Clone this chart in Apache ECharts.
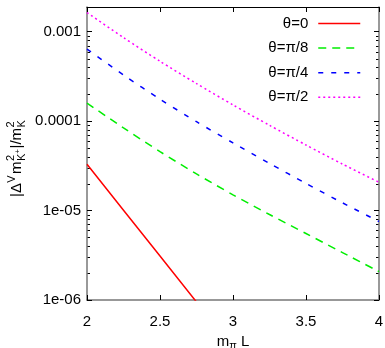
<!DOCTYPE html>
<html>
<head>
<meta charset="utf-8">
<script src="https://cdn.jsdelivr.net/npm/echarts@6/dist/echarts.min.js"></script>
<style>
  html, body { margin: 0; padding: 0; background: #fff; }
  #chart { width: 385px; height: 348px; }
</style>
</head>
<body>
<div id="chart"></div>
<script>
const mL = [2, 2.25, 2.5, 2.75, 3, 3.25, 3.5, 3.75, 4];
// |Delta^V m^2_K+| / m^2_K for each theta
const theta0 = [3.30e-5, 1.01e-5, 3.11e-6, 9.5e-7];
const thetaPi8 = [1.59e-4, 8.40e-5, 4.56e-5, 2.57e-5, 1.50e-5, 9.03e-6, 5.54e-6, 3.39e-6, 2.08e-6];
const thetaPi4 = [6.40e-4, 3.28e-4, 1.76e-4, 9.86e-5, 5.71e-5, 3.37e-5, 2.01e-5, 1.22e-5, 7.55e-6];
const thetaPi2 = [1.64e-3, 8.59e-4, 4.67e-4, 2.63e-4, 1.52e-4, 8.98e-5, 5.41e-5, 3.31e-5, 2.07e-5];

const seriesNames = ['θ=0', 'θ=π/8', 'θ=π/4', 'θ=π/2'];
const xTickLabels = ['2', '2.5', '3', '3.5', '4'];
const yTickLabels = ['1e-06', '1e-05', '0.0001', '0.001'];

const FONT = 'Liberation Sans';
const X_MIN = 2, X_MAX = 4, Y_MIN = 1e-6, Y_MAX = 0.00189;

const chart = echarts.init(document.getElementById('chart'));

function pairs(ys) {
  return ys.map((y, i) => [mL[i], y]);
}

function yLabel(v) {
  const l = Math.log10(v);
  const e = Math.round(l);
  if (Math.abs(l - e) > 1e-6) return '';
  return yTickLabels[e + 6] || '';
}

function xLabel(v) {
  const i = Math.round((v - X_MIN) / 0.5);
  return xTickLabels[i] || '';
}

const lineSeries = [
  { data: theta0, color: '#ff0000', type: 'solid', smooth: false },
  { data: thetaPi8, color: '#00ee00', type: [8, 6], smooth: 0.25 },
  { data: thetaPi4, color: '#0000ff', type: [5, 8], smooth: 0.25 },
  { data: thetaPi2, color: '#ff00ff', type: [2, 3], smooth: 0.25 },
].map((s, i) => ({
  name: seriesNames[i],
  type: 'line',
  data: pairs(s.data),
  smooth: s.smooth,
  symbol: 'none',
  clip: true,
  color: s.color,
  lineStyle: { color: s.color, width: 1.5, type: s.type },
}));

const grayLine = { show: true, onZero: false, lineStyle: { color: '#777', width: 1.5 } };
const blackLine = { show: true, onZero: false, lineStyle: { color: '#000', width: 1 } };

chart.setOption({
  animation: false,
  grid: { left: 87, right: 6, top: 7, bottom: 48, outerBoundsMode: 'none' },
  legend: {
    orient: 'vertical',
    right: 19,
    top: 11,
    align: 'right',
    itemWidth: 42,
    itemHeight: 14,
    itemGap: 9.6,
    data: seriesNames,
    itemStyle: { opacity: 0 },
    lineStyle: { width: 1.5 },
    textStyle: { fontFamily: FONT, fontSize: 15, color: '#000', padding: [0, 5, 0, 0], lineHeight: 14 },
  },
  xAxis: [
    {
      type: 'value', min: X_MIN, max: X_MAX, interval: 0.5,
      axisLine: grayLine,
      axisTick: { show: true, inside: true, length: 5, lineStyle: { color: '#000' } },
      axisLabel: { fontFamily: FONT, fontSize: 15, color: '#000', margin: 14, formatter: xLabel },
      splitLine: { show: false },
      name: '{n|m}{s|π}{n| L}',
      nameLocation: 'middle',
      nameGap: 26,
      nameTextStyle: {
        rich: {
          n: { fontFamily: FONT, fontSize: 15, color: '#000', lineHeight: 20, verticalAlign: 'middle' },
          s: { fontFamily: FONT, fontSize: 11, color: '#000', lineHeight: 11, verticalAlign: 'bottom' },
        },
      },
    },
    {
      type: 'value', min: X_MIN, max: X_MAX, interval: 0.5, position: 'top',
      axisLine: blackLine,
      axisTick: { show: true, inside: true, length: 5, lineStyle: { color: '#000' } },
      axisLabel: { show: false },
      splitLine: { show: false },
    },
  ],
  yAxis: [
    {
      type: 'log', logBase: 10, min: Y_MIN, max: Y_MAX,
      axisLine: grayLine,
      axisTick: { show: true, inside: true, length: 5, lineStyle: { color: '#000' } },
      axisLabel: { fontFamily: FONT, fontSize: 15, color: '#000', margin: 6, formatter: yLabel },
      splitLine: { show: false },
    },
    {
      type: 'log', logBase: 10, min: Y_MIN, max: Y_MAX, position: 'right',
      axisLine: grayLine,
      axisTick: { show: true, inside: true, length: 5, lineStyle: { color: '#000' } },
      axisLabel: { show: false },
      splitLine: { show: false },
    },
  ],
  series: lineSeries,
});

// minor ticks (2..9 per decade) on left and right axes, placed through the axis scale
const xl = chart.convertToPixel({ xAxisIndex: 0 }, X_MIN);
const xr = chart.convertToPixel({ xAxisIndex: 0 }, X_MAX);
const graphics = [];
for (let d = -6; d <= -3; d++) {
  for (let m = 2; m <= 9; m++) {
    const v = m * Math.pow(10, d);
    if (v >= Y_MAX) continue;
    const y = Math.round(chart.convertToPixel({ yAxisIndex: 0 }, v)) + 0.5;
    graphics.push({ type: 'line', silent: true, shape: { x1: xl, y1: y, x2: xl + 3, y2: y }, style: { stroke: '#000', lineWidth: 1 } });
    graphics.push({ type: 'line', silent: true, shape: { x1: xr - 3, y1: y, x2: xr, y2: y }, style: { stroke: '#000', lineWidth: 1 } });
  }
}

// y axis title: |Δ^V m^2_{K+}|/m^2_K, rotated to read bottom to top
function part(text, x, base, size) {
  return {
    type: 'text', x: x, y: base - 0.3 * size,
    style: { text: text, fontFamily: FONT, fontSize: size, fill: '#000', verticalAlign: 'middle', align: 'left' },
  };
}
graphics.push({
  type: 'group',
  x: 21, y: 197,
  rotation: Math.PI / 2,
  children: [
    part('|Δ', 0, 0, 15),
    part('V', 14.3, -6, 11),
    part('m', 23, 0, 15),
    part('2', 36, -6.5, 11),
    part('K', 36, 4, 11),
    part('+', 43.3, -1, 8),
    part('|/m', 48.5, 0, 15),
    part('2', 69.5, -6.5, 11),
    part('K', 69.5, 4, 11),
  ],
});

chart.setOption({ graphic: graphics });
</script>
</body>
</html>
